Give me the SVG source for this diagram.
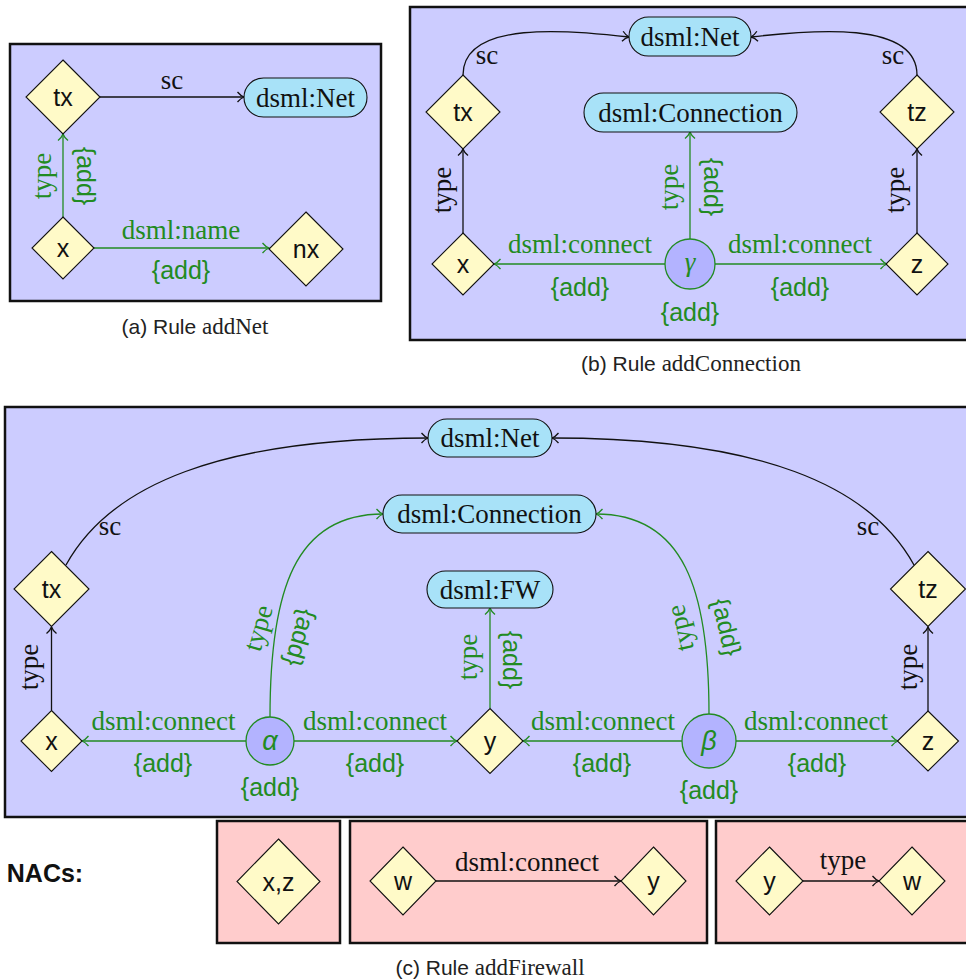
<svg xmlns="http://www.w3.org/2000/svg" width="966" height="980" viewBox="0 0 966 980">
  <style>
    .panel { fill: #ccccff; stroke: #111; stroke-width: 2.5; }
    .nac { fill: #ffcccc; stroke: #111; stroke-width: 2.5; }
    .obj { fill: #fffac8; stroke: #111; stroke-width: 1.1; }
    .cls { fill: #a8e2f8; stroke: #111; stroke-width: 1.1; }
    .new { fill: #b3b3ff; stroke: #228b22; stroke-width: 1.3; }
    .e { fill: none; stroke: #111; stroke-width: 1.3; marker-end: url(#ah); }
    .g { fill: none; stroke: #228b22; stroke-width: 1.3; marker-end: url(#ahg); }
    text { dominant-baseline: central; text-anchor: middle; }
    .sans { font-family: "Liberation Sans", "DejaVu Sans", sans-serif; font-size: 25px; fill: #111; }
    .serif { font-family: "Liberation Serif", "DejaVu Serif", serif; font-size: 27px; fill: #111; }
    .gs { font-family: "Liberation Serif", "DejaVu Serif", serif; font-size: 27px; fill: #228b22; }
    .ga { font-family: "Liberation Sans", "DejaVu Sans", sans-serif; font-size: 25px; fill: #228b22; }
    .gk { font-family: "Liberation Sans", "DejaVu Sans", sans-serif; font-size: 27px; font-style: italic; fill: #228b22; }
    .cap { font-family: "Liberation Sans", "DejaVu Sans", sans-serif; font-size: 21px; fill: #222; }
    .capm { font-family: "Liberation Serif", "DejaVu Serif", serif; font-size: 23px; }
  </style>
  <defs>
    <marker id="ah" viewBox="-8 -6 10 12" markerWidth="10" markerHeight="12" refX="0" refY="0" orient="auto" markerUnits="userSpaceOnUse">
      <path d="M-6.5,-5 C-4,-2 -2,-0.7 0,0 C-2,0.7 -4,2 -6.5,5" fill="none" stroke="#111" stroke-width="1.3"/>
    </marker>
    <marker id="ahg" viewBox="-8 -6 10 12" markerWidth="10" markerHeight="12" refX="0" refY="0" orient="auto" markerUnits="userSpaceOnUse">
      <path d="M-6.5,-5 C-4,-2 -2,-0.7 0,0 C-2,0.7 -4,2 -6.5,5" fill="none" stroke="#228b22" stroke-width="1.3"/>
    </marker>
  </defs>

  <!-- ===== (a) Rule addNet ===== -->
  <g id="ruleA">
    <rect class="panel" x="10" y="44" width="371" height="257"/>
    <g id="a-connectors">
      <path class="e" d="M100,97 L244,97"/>
      <path class="g" d="M63,217 L63,134"/>
      <path class="g" d="M94,248 L269,248"/>
      <text class="serif" x="172" y="80">sc</text>
      <text class="gs" transform="translate(42,176) rotate(-90)">type</text>
      <text class="ga" transform="translate(86,176) rotate(90)">{add}</text>
      <text class="gs" x="181" y="230">dsml:name</text>
      <text class="ga" x="181" y="270">{add}</text>
    </g>
    <g id="a-tx"><polygon class="obj" points="63,60 100,97 63,134 26,97"/><text class="sans" x="63" y="97">tx</text></g>
    <g id="a-net"><rect class="cls" x="244" y="78" width="123" height="39" rx="19.5"/><text class="serif" x="305.5" y="97.5">dsml:Net</text></g>
    <g id="a-x"><polygon class="obj" points="63,217 94,248 63,279 32,248"/><text class="sans" x="63" y="248">x</text></g>
    <g id="a-nx"><polygon class="obj" points="306,212 343,249 306,286 269,249"/><text class="sans" x="306" y="249">nx</text></g>
    <text class="cap" x="195" y="326">(a) Rule <tspan class="capm">addNet</tspan></text>
  </g>

  <!-- ===== (b) Rule addConnection ===== -->
  <g id="ruleB">
    <rect class="panel" x="410" y="7" width="570" height="333"/>
    <g id="b-connectors">
      <path class="e" d="M463,75 C463,20 570,30 629,37"/>
      <path class="e" d="M917,75 C917,20 810,30 751,37"/>
      <path class="e" d="M463,233 L463,149"/>
      <path class="e" d="M917,233 L917,149"/>
      <path class="g" d="M665,264 L494,264"/>
      <path class="g" d="M715,264 L887,264"/>
      <path class="g" d="M690,239 L690,132"/>
      <text class="serif" x="487" y="55">sc</text>
      <text class="serif" x="893" y="55">sc</text>
      <text class="serif" transform="translate(442,190) rotate(-90)">type</text>
      <text class="serif" transform="translate(895,190) rotate(-90)">type</text>
      <text class="gs" transform="translate(669,187) rotate(-90)">type</text>
      <text class="ga" transform="translate(713,187) rotate(90)">{add}</text>
      <text class="gs" x="580" y="244">dsml:connect</text>
      <text class="gs" x="800" y="244">dsml:connect</text>
      <text class="ga" x="580" y="287">{add}</text>
      <text class="ga" x="800" y="287">{add}</text>
      <text class="ga" x="690" y="312">{add}</text>
    </g>
    <g id="b-net"><rect class="cls" x="629" y="17" width="122" height="39" rx="19.5"/><text class="serif" x="690" y="36.5">dsml:Net</text></g>
    <g id="b-conn"><rect class="cls" x="584" y="93" width="213" height="39" rx="19.5"/><text class="serif" x="690.5" y="112.5">dsml:Connection</text></g>
    <g id="b-tx"><polygon class="obj" points="463,75 500,112 463,149 426,112"/><text class="sans" x="463" y="112">tx</text></g>
    <g id="b-tz"><polygon class="obj" points="917,75 954,112 917,149 880,112"/><text class="sans" x="917" y="112">tz</text></g>
    <g id="b-x"><polygon class="obj" points="463,233 494,264 463,295 432,264"/><text class="sans" x="463" y="264">x</text></g>
    <g id="b-z"><polygon class="obj" points="917,233 948,264 917,295 886,264"/><text class="sans" x="917" y="264">z</text></g>
    <g id="b-gamma"><circle class="new" cx="690" cy="264" r="25"/><text class="gs" x="690" y="262" font-style="italic">γ</text></g>
    <text class="cap" x="691" y="363">(b) Rule <tspan class="capm">addConnection</tspan></text>
  </g>

  <!-- ===== (c) Rule addFirewall ===== -->
  <g id="ruleC">
    <rect class="panel" x="5" y="407" width="975" height="410"/>
    <g id="c-connectors">
      <path class="e" d="M66,565 C110,485 220,438 428,438"/>
      <path class="e" d="M914,565 C870,485 760,438 552,438"/>
      <path class="e" d="M51.5,710 L51.5,627"/>
      <path class="e" d="M928,711 L928,627"/>
      <path class="g" d="M270,717 C270,590 295,514 383,514"/>
      <path class="g" d="M709,714 C709,590 684,514 596,514"/>
      <path class="g" d="M246,741 L82,741"/>
      <path class="g" d="M294,741 L457,741"/>
      <path class="g" d="M682,741 L523,741"/>
      <path class="g" d="M736,741 L898,741"/>
      <path class="g" d="M490,708 L490,608"/>
      <text class="serif" x="110" y="526">sc</text>
      <text class="serif" x="868" y="526">sc</text>
      <text class="serif" transform="translate(29,667) rotate(-90)">type</text>
      <text class="serif" transform="translate(908,667) rotate(-90)">type</text>
      <text class="gs" transform="translate(258,628) rotate(-74)">type</text>
      <text class="ga" transform="translate(301,638) rotate(106)">{add}</text>
      <text class="gs" transform="translate(680,628) rotate(-103)">type</text>
      <text class="ga" transform="translate(727,627) rotate(77)">{add}</text>
      <text class="gs" transform="translate(468,657) rotate(-90)">type</text>
      <text class="ga" transform="translate(512,660) rotate(90)">{add}</text>
      <text class="gs" x="163.5" y="721">dsml:connect</text>
      <text class="gs" x="375" y="721">dsml:connect</text>
      <text class="gs" x="603" y="721">dsml:connect</text>
      <text class="gs" x="816" y="721">dsml:connect</text>
      <text class="ga" x="163" y="763">{add}</text>
      <text class="ga" x="375" y="763">{add}</text>
      <text class="ga" x="602" y="763">{add}</text>
      <text class="ga" x="817" y="763">{add}</text>
      <text class="ga" x="270" y="787">{add}</text>
      <text class="ga" x="709" y="790">{add}</text>
    </g>
    <g id="c-net"><rect class="cls" x="428" y="419" width="124" height="38" rx="19"/><text class="serif" x="490" y="438">dsml:Net</text></g>
    <g id="c-conn"><rect class="cls" x="383" y="495" width="213" height="38" rx="19"/><text class="serif" x="489.5" y="514">dsml:Connection</text></g>
    <g id="c-fw"><rect class="cls" x="427" y="571" width="126" height="37" rx="18.5"/><text class="serif" x="490" y="589.5">dsml:FW</text></g>
    <g id="c-tx"><polygon class="obj" points="51.5,551.5 89,589 51.5,626.5 14,589"/><text class="sans" x="51.5" y="589">tx</text></g>
    <g id="c-tz"><polygon class="obj" points="928,551.5 965.5,589 928,626.5 890.5,589"/><text class="sans" x="928" y="589">tz</text></g>
    <g id="c-x"><polygon class="obj" points="51.5,710.5 82,741 51.5,771.5 21,741"/><text class="sans" x="51.5" y="741">x</text></g>
    <g id="c-y"><polygon class="obj" points="490,708.5 523,741 490,773.5 457,741"/><text class="sans" x="490" y="741">y</text></g>
    <g id="c-z"><polygon class="obj" points="928,711 958.5,741 928,771 897.5,741"/><text class="sans" x="928" y="741">z</text></g>
    <g id="c-alpha"><circle class="new" cx="270" cy="741" r="24"/><text class="gk" x="270" y="741">α</text></g>
    <g id="c-beta"><circle class="new" cx="709" cy="741" r="27"/><text class="gk" x="709" y="741">β</text></g>

    <!-- negative application conditions -->
    <text class="sans" x="45" y="873" font-weight="bold" font-size="24">NACs:</text>
    <g id="nac1">
      <rect class="nac" x="217" y="821" width="123" height="122"/>
      <g id="nac1-xz"><polygon class="obj" points="278.5,839 320,881.5 278.5,924 237,881.5"/><text class="sans" x="278.5" y="881.5">x,z</text></g>
    </g>
    <g id="nac2">
      <rect class="nac" x="350" y="821" width="357" height="122"/>
      <g id="nac2-connectors">
        <path class="e" d="M436,881 L621,881"/>
        <text class="serif" x="527" y="862">dsml:connect</text>
      </g>
      <g id="nac2-w"><polygon class="obj" points="403,847 436,881 403,915 370,881"/><text class="sans" x="403" y="881">w</text></g>
      <g id="nac2-y"><polygon class="obj" points="653.5,847 686,881 653.5,915 621,881"/><text class="sans" x="653.5" y="881">y</text></g>
    </g>
    <g id="nac3">
      <rect class="nac" x="716" y="821" width="270" height="122"/>
      <g id="nac3-connectors">
        <path class="e" d="M803,881 L879,881"/>
        <text class="serif" x="843" y="860">type</text>
      </g>
      <g id="nac3-y"><polygon class="obj" points="769.5,847 803,881 769.5,915 736,881"/><text class="sans" x="769.5" y="881">y</text></g>
      <g id="nac3-w"><polygon class="obj" points="912,847 945,881 912,915 879,881"/><text class="sans" x="912" y="881">w</text></g>
    </g>
    <text class="cap" x="490" y="967">(c) Rule <tspan class="capm">addFirewall</tspan></text>
  </g>
</svg>
